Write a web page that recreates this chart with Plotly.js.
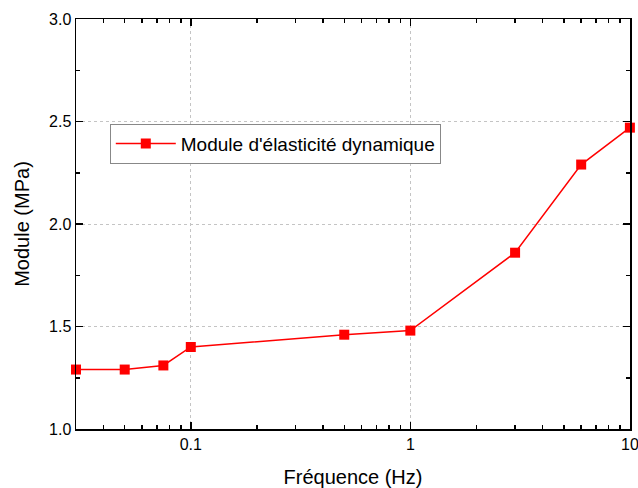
<!DOCTYPE html>
<html>
<head>
<meta charset="utf-8">
<script src="https://cdn.plot.ly/plotly-3.0.1.min.js"></script>
<style>html,body{margin:0;padding:0;background:#fff;}#chart{width:638px;height:488px;}</style>
</head>
<body>
<div id="chart"></div>
<script>
// Dynamic elastic modulus versus loading frequency
const frequency = [0.03, 0.05, 0.075, 0.1, 0.5, 1, 3, 6, 10];
const modulus = [1.29, 1.29, 1.31, 1.40, 1.46, 1.48, 1.86, 2.29, 2.47];
const seriesName = "Module d'élasticité dynamique";
const xTickVals = [0.1, 1, 10];
const xTickText = ['0.1', '1', '10'];

// minor ticks of the log axis: 2..9 within every decade
const xMinorVals = [];
[0.01, 0.1, 1].forEach(function (d) {
  for (let k = 2; k <= 9; k++) xMinorVals.push(+(k * d).toPrecision(3));
});

const font = 'Arial, "Liberation Sans", sans-serif';
const xRange = [Math.log10(0.03), 1.0005];

const trace = {
  x: frequency,
  y: modulus,
  name: seriesName,
  type: 'scatter',
  mode: 'lines+markers',
  line: {color: '#ff0000', width: 1.5},
  marker: {symbol: 'square', size: 10, color: '#ff0000'},
  cliponaxis: false
};

const minorTicks = {ticks: 'inside', ticklen: 4, tickwidth: 1.5, tickcolor: '#000', showgrid: false};

const axisCommon = {
  showline: true,
  linecolor: '#000',
  linewidth: 1.5,
  mirror: 'ticks',
  ticks: 'inside',
  ticklen: 7,
  tickwidth: 1.5,
  tickcolor: '#000',
  showgrid: true,
  gridcolor: '#c4c4c4',
  griddash: '3px,3px',
  gridwidth: 1,
  zeroline: false,
  ticklabeloverflow: 'allow',
  tickfont: {family: font, size: 16, color: '#000'}
};

const layout = {
  width: 638,
  height: 488,
  margin: {l: 76, r: 8, t: 19, b: 59},
  paper_bgcolor: '#fff',
  plot_bgcolor: '#fff',
  showlegend: true,
  legend: {
    x: 0.061, y: 0.745, xanchor: 'left', yanchor: 'top',
    bgcolor: '#fff', bordercolor: '#888', borderwidth: 1,
    font: {family: font, size: 19, color: '#000'},
    itemwidth: 60
  },
  xaxis: Object.assign({}, axisCommon, {
    type: 'log',
    range: xRange,
    tickmode: 'array',
    tickvals: xTickVals,
    ticktext: xTickText,
    minor: Object.assign({tickmode: 'array', tickvals: xMinorVals}, minorTicks),
    title: {text: 'Fréquence (Hz)', font: {family: font, size: 20, color: '#000'}, standoff: 18}
  }),
  yaxis: Object.assign({}, axisCommon, {
    range: [1.0, 3.0],
    dtick: 0.5,
    tickformat: '.1f',
    minor: Object.assign({dtick: 0.25}, minorTicks),
    title: {text: 'Module (MPa)', font: {family: font, size: 20, color: '#000'}, standoff: 14}
  })
};

Plotly.newPlot('chart', [trace], layout, {displayModeBar: false, staticPlot: true});
</script>
</body>
</html>
